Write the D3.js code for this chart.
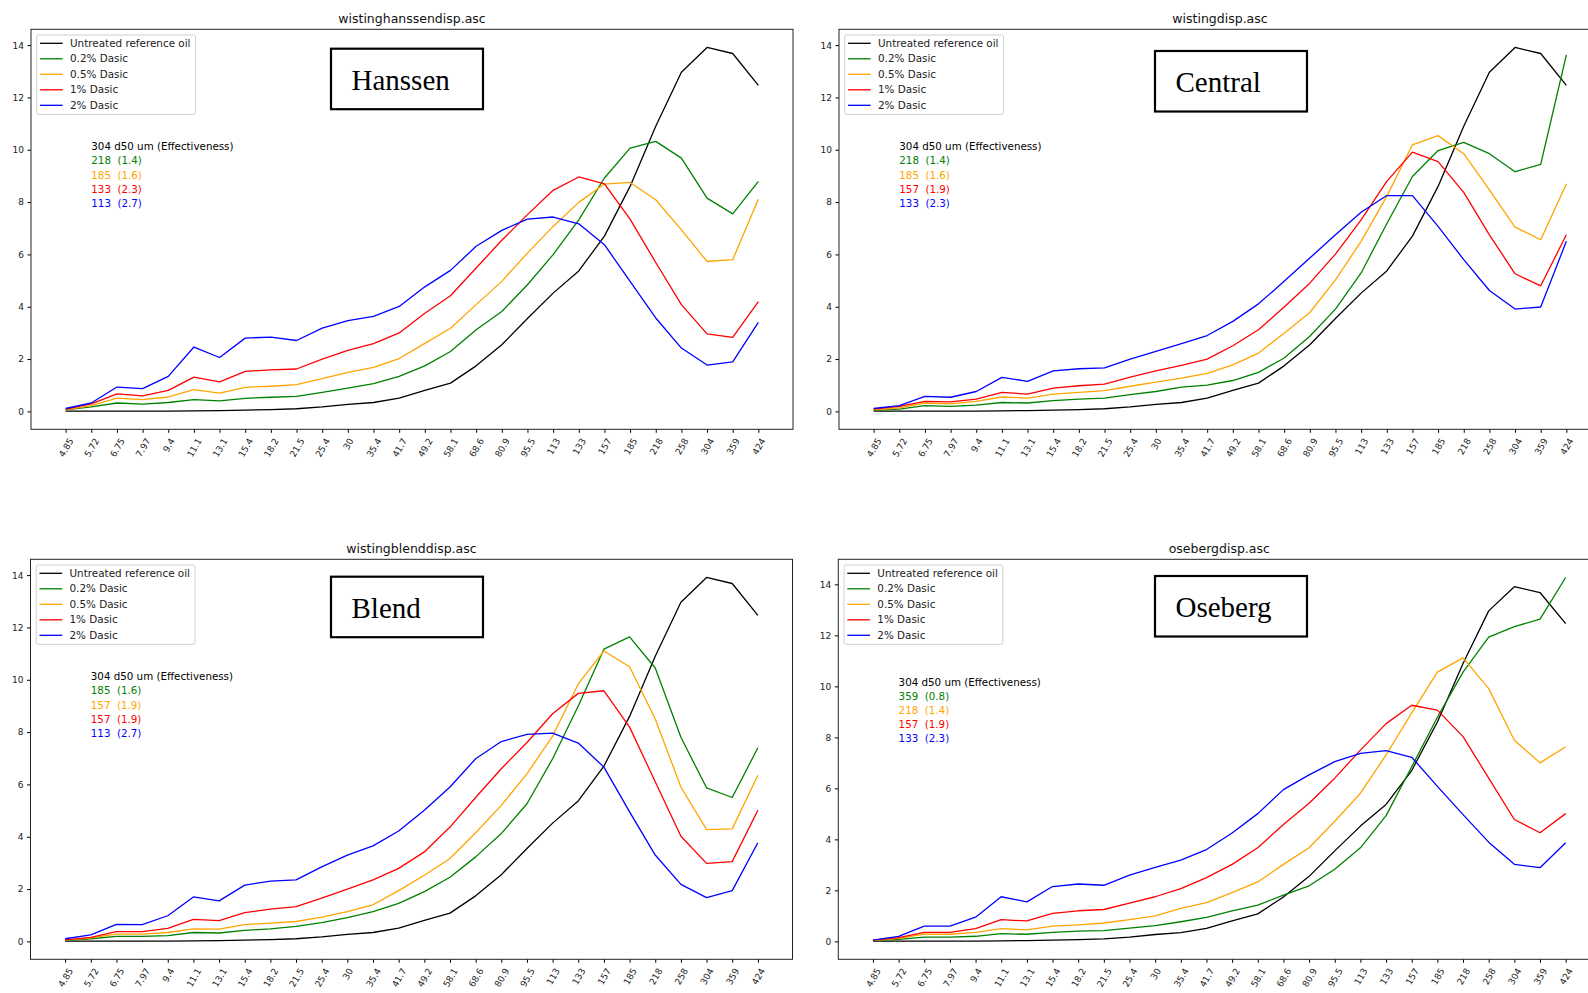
<!doctype html>
<html>
<head>
<meta charset="utf-8"/>
<style>
  html, body { margin: 0; padding: 0; background: #fff; }
  svg { display: block; }
</style>
<script src="https://cdn.jsdelivr.net/npm/d3@7"></script>
</head>
<body>
<svg id="chart" width="1588" height="993" font-family="DejaVu Sans, sans-serif"></svg>
<script>
// size classes on the x axis (um)
var sizes = ["4.85","5.72","6.75","7.97","9.4","11.1","13.1","15.4","18.2","21.5","25.4","30","35.4","41.7",
             "49.2","58.1","68.6","80.9","95.5","113","133","157","185","218","258","304","359","424"];

// untreated reference oil, same curve in all four plots
var reference = [0.01,0.01,0.01,0.01,0.01,0.02,0.03,0.05,0.07,0.1,0.17,0.27,0.34,0.51,
                 0.8,1.08,1.74,2.55,3.55,4.52,5.37,6.7,8.6,10.9,12.96,13.91,13.68,12.46];

var hanssen02 = [0.06,0.17,0.32,0.28,0.34,0.45,0.4,0.5,0.54,0.57,0.73,0.89,1.06,1.34,
                 1.74,2.29,3.12,3.82,4.84,5.99,7.32,8.92,10.06,10.32,9.68,8.15,7.55,8.79];
var hanssen05 = [0.06,0.22,0.51,0.45,0.55,0.83,0.7,0.92,0.96,1.02,1.25,1.49,1.68,2.02,
                 2.6,3.18,4.08,4.97,6.05,7.07,7.99,8.69,8.75,8.09,6.94,5.73,5.8,8.11];
var hanssen1  = [0.09,0.29,0.67,0.59,0.8,1.31,1.13,1.53,1.59,1.62,2.0,2.33,2.59,3.0,
                 3.75,4.42,5.48,6.54,7.52,8.45,8.96,8.7,7.35,5.69,4.08,2.96,2.83,4.2];
var hanssen2  = [0.11,0.32,0.93,0.87,1.34,2.46,2.06,2.8,2.84,2.71,3.18,3.47,3.63,4.01,
                 4.76,5.39,6.31,6.92,7.35,7.43,7.17,6.37,4.97,3.57,2.42,1.77,1.89,3.4];

var central02 = [0.04,0.09,0.22,0.19,0.24,0.34,0.32,0.41,0.47,0.51,0.64,0.76,0.93,1.0,
                 1.18,1.49,2.04,2.87,3.91,5.29,7.17,8.98,9.97,10.28,9.85,9.16,9.44,13.63];
var central05 = [0.06,0.13,0.32,0.29,0.38,0.55,0.51,0.66,0.73,0.79,0.96,1.12,1.27,1.45,
                 1.78,2.23,2.99,3.78,5.03,6.5,8.22,10.19,10.54,9.85,8.47,7.04,6.56,8.69];
var central1  = [0.09,0.19,0.38,0.36,0.47,0.73,0.66,0.89,0.98,1.04,1.31,1.55,1.76,2.0,
                 2.51,3.12,3.99,4.9,6.01,7.32,8.79,9.91,9.55,8.37,6.75,5.26,4.8,6.75];
var central2  = [0.11,0.22,0.57,0.54,0.76,1.3,1.15,1.55,1.63,1.66,2.0,2.29,2.59,2.9,
                 3.44,4.11,4.97,5.86,6.75,7.61,8.25,8.25,7.07,5.8,4.62,3.91,3.99,6.5];

var blend02 = [0.03,0.1,0.19,0.19,0.22,0.34,0.32,0.42,0.48,0.57,0.72,0.91,1.14,1.45,
               1.9,2.45,3.23,4.12,5.26,6.98,9.0,11.17,11.64,10.45,7.8,5.87,5.5,7.4];
var blend05 = [0.05,0.13,0.28,0.28,0.34,0.48,0.47,0.64,0.7,0.76,0.93,1.14,1.4,1.94,
               2.53,3.17,4.15,5.2,6.4,7.85,9.84,11.1,10.5,8.5,5.9,4.27,4.3,6.35];
var blend1  = [0.06,0.15,0.37,0.37,0.5,0.84,0.79,1.1,1.23,1.33,1.65,2.0,2.35,2.79,
               3.42,4.37,5.5,6.6,7.6,8.7,9.48,9.58,8.19,6.1,4.02,2.98,3.05,5.01];
var blend2  = [0.1,0.25,0.65,0.64,0.98,1.7,1.55,2.15,2.3,2.35,2.85,3.3,3.65,4.22,
               5.01,5.9,6.98,7.64,7.91,7.96,7.58,6.66,4.95,3.3,2.18,1.67,1.94,3.77];

var oseberg02 = [0.02,0.08,0.17,0.17,0.2,0.3,0.28,0.35,0.4,0.42,0.52,0.62,0.77,0.94,
                 1.2,1.42,1.81,2.18,2.83,3.67,4.93,6.85,8.79,10.56,11.93,12.34,12.64,14.27];
var oseberg05 = [0.03,0.12,0.28,0.28,0.35,0.5,0.45,0.6,0.65,0.72,0.85,1.0,1.29,1.52,
                 1.91,2.33,3.02,3.67,4.71,5.81,7.31,8.96,10.56,11.12,9.91,7.89,7.0,7.63];
var oseberg1  = [0.05,0.15,0.35,0.35,0.5,0.85,0.8,1.1,1.2,1.25,1.5,1.75,2.07,2.5,
                 3.02,3.67,4.58,5.42,6.4,7.5,8.54,9.26,9.07,8.03,6.4,4.78,4.26,5.01];
var oseberg2  = [0.05,0.2,0.6,0.6,0.95,1.75,1.55,2.15,2.25,2.2,2.6,2.9,3.19,3.6,
                 4.25,5.01,5.95,6.53,7.05,7.37,7.48,7.22,6.08,4.97,3.89,3.02,2.89,3.87];

var seriesNames  = ["Untreated reference oil", "0.2% Dasic", "0.5% Dasic", "1% Dasic", "2% Dasic"];
var seriesColors = ["black", "green", "orange", "red", "blue"];
var yTicks = [0, 2, 4, 6, 8, 10, 12, 14];

var noteHeader   = "304 d50 um (Effectiveness)";
var hanssenNotes = ["218  (1.4)", "185  (1.6)", "133  (2.3)", "113  (2.7)"];
var centralNotes = ["218  (1.4)", "185  (1.6)", "157  (1.9)", "133  (2.3)"];
var blendNotes   = ["185  (1.6)", "157  (1.9)", "157  (1.9)", "113  (2.7)"];
var osebergNotes = ["359  (0.8)", "218  (1.4)", "157  (1.9)", "133  (2.3)"];

var panels = [
  {file: "wistinghanssendisp.asc", label: "Hanssen", notes: hanssenNotes,
   series: [reference, hanssen02, hanssen05, hanssen1, hanssen2], left: 31, top: 29.3, boxX: 300, boxY: 19.4},
  {file: "wistingdisp.asc", label: "Central", notes: centralNotes,
   series: [reference, central02, central05, central1, central2], left: 839, top: 29.3, boxX: 316, boxY: 21.7},
  {file: "wistingblenddisp.asc", label: "Blend", notes: blendNotes,
   series: [reference, blend02, blend05, blend1, blend2], left: 30.5, top: 559.3, boxX: 300.5, boxY: 17.4},
  {file: "osebergdisp.asc", label: "Oseberg", notes: osebergNotes,
   series: [reference, oseberg02, oseberg05, oseberg1, oseberg2], left: 838.3, top: 559.3, boxX: 316.7, boxY: 16.7}
];

var width = 762, height = 400;
var svg = d3.select("#chart");
svg.append("rect").attr("width", 1588).attr("height", 993).attr("fill", "#fff");

panels.forEach(function(p) {
  var g = svg.append("g").attr("transform", "translate(" + p.left + "," + p.top + ")");

  // matplotlib style 5% margins
  var x = d3.scalePoint().domain(sizes).range([0, width]).padding(1.35);
  var all = d3.merge(p.series);
  var lo = d3.min(all), hi = d3.max(all), pad = (hi - lo) * 0.05;
  var y = d3.scaleLinear().domain([lo - pad, hi + pad]).range([height, 0]);

  // title
  g.append("text").attr("x", width / 2).attr("y", -6.5)
    .attr("text-anchor", "middle").attr("font-size", 12.5).attr("fill", "#111")
    .text(p.file);

  // y axis
  var ya = g.append("g").call(d3.axisLeft(y).tickValues(yTicks).tickSize(3.5).tickPadding(3.5).tickFormat(d3.format("d")));
  ya.select(".domain").remove();
  ya.attr("font-family", null);
  ya.selectAll("text").attr("font-size", 9).attr("fill", "#222");

  // x axis with rotated labels, bbox centred under each tick
  var xa = g.append("g").attr("transform", "translate(0," + height + ")")
    .call(d3.axisBottom(x).tickSize(3.5).tickSizeOuter(0));
  xa.select(".domain").remove();
  xa.attr("font-family", null);
  var rot = 60 * Math.PI / 180;
  xa.selectAll(".tick text").each(function() {
    var t = d3.select(this)
      .attr("font-size", 9).attr("fill", "#222")
      .attr("text-anchor", "middle").attr("dy", "0.35em").attr("y", 0);
    var w = this.getComputedTextLength(), h = 10.5;
    var H = w * Math.sin(rot) + h * Math.cos(rot);
    t.attr("transform", "translate(0," + (7 + H / 2) + ") rotate(-60)");
  });

  // data lines
  var line = d3.line()
    .x(function(d, i) { return x(sizes[i]); })
    .y(function(d) { return y(d); });
  p.series.forEach(function(s, k) {
    g.append("path").datum(s)
      .attr("fill", "none").attr("stroke", seriesColors[k])
      .attr("stroke-width", 1.3).attr("stroke-linejoin", "round")
      .attr("d", line);
  });

  // frame
  g.append("rect").attr("width", width).attr("height", height)
    .attr("fill", "none").attr("stroke", "#222").attr("stroke-width", 1);

  // legend
  var lg = g.append("g").attr("transform", "translate(5.7,5.7)");
  var lgBox = lg.append("rect").attr("rx", 2).attr("fill", "#fff").attr("fill-opacity", 0.8)
    .attr("stroke", "#d0d0d0").attr("stroke-width", 1);
  var maxW = 0;
  seriesNames.forEach(function(name, k) {
    var cy = 8.3 + k * 15.5;
    lg.append("line").attr("x1", 3.3).attr("x2", 26).attr("y1", cy).attr("y2", cy)
      .attr("stroke", seriesColors[k]).attr("stroke-width", 1.3);
    var t = lg.append("text").attr("x", 33.3).attr("y", cy).attr("dy", "0.35em")
      .attr("font-size", 10.4).attr("fill", "#222").text(name);
    maxW = Math.max(maxW, t.node().getComputedTextLength());
  });
  lgBox.attr("width", 33.3 + maxW + 5).attr("height", 8.3 + 4 * 15.5 + 9);

  // d50 / effectiveness notes, placed in data coordinates
  var notes = [noteHeader].concat(p.notes);
  notes.forEach(function(n, k) {
    g.append("text").attr("x", x(sizes[0]) + (x(sizes[1]) - x(sizes[0])))
      .attr("y", y(10 - 0.55 * k))
      .attr("font-size", 10.3).attr("fill", seriesColors[k])
      .style("white-space", "pre").text(n);
  });

  // oil label box
  g.append("rect").attr("x", p.boxX).attr("y", p.boxY).attr("width", 152).attr("height", 60.5)
    .attr("fill", "#fff").attr("stroke", "#000").attr("stroke-width", 2.2);
  g.append("text").attr("x", p.boxX + 20.5).attr("y", p.boxY + 41)
    .style("font-family", "'Liberation Serif', 'Times New Roman', serif").attr("font-size", 29)
    .attr("fill", "#000").text(p.label);
});
</script>
</body>
</html>
